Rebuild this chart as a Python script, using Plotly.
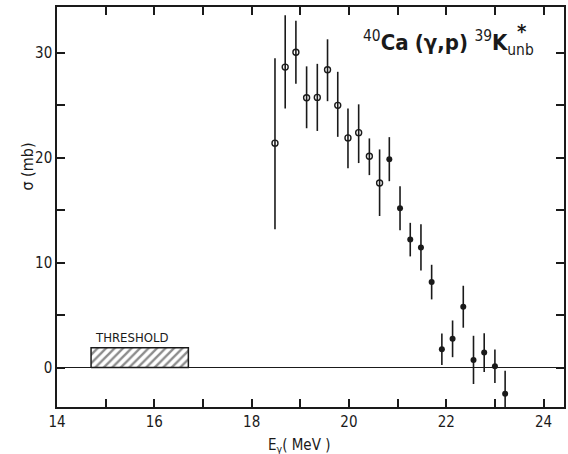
import plotly.graph_objects as go

# ---- data ----
open_E = [18.48, 18.69, 18.91, 19.13, 19.35, 19.56, 19.77, 19.98, 20.20, 20.42, 20.63]
open_sigma = [21.4, 28.65, 30.06, 25.72, 25.76, 28.4, 25.0, 21.9, 22.4, 20.15, 17.6]
open_err_plus = [8.1, 4.95, 3.0, 3.0, 3.2, 2.9, 3.2, 2.8, 2.7, 1.7, 3.2]
open_err_minus = [8.2, 3.95, 3.0, 2.9, 3.2, 3.0, 3.0, 2.9, 2.9, 1.8, 3.15]

filled_E = [20.83, 21.05, 21.26, 21.48, 21.70, 21.91, 22.13, 22.35, 22.56, 22.78, 23.00, 23.21]
filled_sigma = [19.87, 15.2, 12.2, 11.46, 8.15, 1.75, 2.74, 5.8, 0.73, 1.43, 0.13, -2.5]
filled_err = [2.1, 2.1, 1.6, 2.2, 1.65, 1.5, 1.75, 2.0, 2.3, 1.85, 1.6, 2.2]

threshold_E = [14.7, 16.7]
threshold_height = 1.9
threshold_label = "THRESHOLD"

x_ticks = list(range(14, 25))
x_ticklabels = [str(v) if v % 2 == 0 else " " for v in x_ticks]
y_ticks = [0, 5, 10, 15, 20, 25, 30]
y_ticklabels = ["0", " ", "10", " ", "20", " ", "30"]

FONT = "DejaVu Sans Condensed, Liberation Sans Narrow, sans-serif"
INK = "#1a1a1a"

fig = go.Figure()

# threshold hatched box
tx0, tx1 = threshold_E
fig.add_trace(go.Scatter(
    x=[tx0, tx1, tx1, tx0, tx0],
    y=[0, 0, threshold_height, threshold_height, 0],
    mode="lines", fill="toself",
    fillcolor="white",
    fillpattern=dict(shape="/", fgcolor=INK, bgcolor="white", size=6, solidity=0.4),
    line=dict(color=INK, width=1.5),
    hoverinfo="skip", showlegend=False,
))

fig.add_trace(go.Scatter(
    x=open_E, y=open_sigma, mode="markers",
    marker=dict(symbol="circle-open", size=6, color=INK, line=dict(width=1.4, color=INK)),
    error_y=dict(type="data", array=open_err_plus, arrayminus=open_err_minus,
                 width=0, thickness=1.6, color=INK),
    showlegend=False,
))
fig.add_trace(go.Scatter(
    x=filled_E, y=filled_sigma, mode="markers",
    marker=dict(symbol="circle", size=6, color=INK),
    error_y=dict(type="data", array=filled_err, width=0, thickness=1.6, color=INK),
    showlegend=False,
))

fig.update_layout(
    width=568, height=454,
    margin=dict(l=57, r=2, t=7, b=47),
    paper_bgcolor="white", plot_bgcolor="white",
    font=dict(family=FONT, size=15, color=INK),
    xaxis=dict(range=[14, 24.42], tickvals=x_ticks, ticktext=x_ticklabels,
               ticks="inside", ticklen=8, tickwidth=1.5, tickcolor=INK,
               showline=True, linecolor=INK, linewidth=1.5, mirror="ticks",
               showgrid=False, zeroline=False,
               tickfont=dict(family=FONT, size=15, color=INK)),
    yaxis=dict(range=[-3.76, 34.38], tickvals=y_ticks, ticktext=y_ticklabels,
               ticks="inside", ticklen=8, tickwidth=1.5, tickcolor=INK,
               showline=True, linecolor=INK, linewidth=1.5, mirror="ticks",
               showgrid=False, zeroline=True, zerolinecolor=INK, zerolinewidth=1.3,
               tickfont=dict(family=FONT, size=15, color=INK)),
)

fig.add_annotation(x=tx0 + 0.03, y=threshold_height, xref="x", yref="y",
                   text=threshold_label, showarrow=False, xanchor="left", yanchor="bottom",
                   yshift=1, font=dict(family=FONT, size=13, color=INK))

fig.add_annotation(x=0.945, y=0.91, xref="paper", yref="paper", xanchor="right", yanchor="middle",
                   text="<sup>40</sup><b>Ca</b> <b>(γ,p)</b> <sup>39</sup><b>K</b><sub>unb</sub>",
                   showarrow=False, font=dict(family=FONT, size=22, color=INK))
fig.add_annotation(x=0.903, y=0.94, xref="paper", yref="paper", xanchor="left", yanchor="middle",
                   text="<b>*</b>", showarrow=False, font=dict(family=FONT, size=20, color=INK))

fig.add_annotation(x=0.477, y=-0.095, xref="paper", yref="paper", xanchor="center", yanchor="middle",
                   text="E<sub>γ</sub>( MeV )", showarrow=False,
                   font=dict(family=FONT, size=15, color=INK))
fig.add_annotation(x=-0.06, y=0.6, xref="paper", yref="paper", xanchor="center", yanchor="middle",
                   text="σ (mb)", textangle=-90, showarrow=False,
                   font=dict(family=FONT, size=16, color=INK))

fig.write_html("out.html")
